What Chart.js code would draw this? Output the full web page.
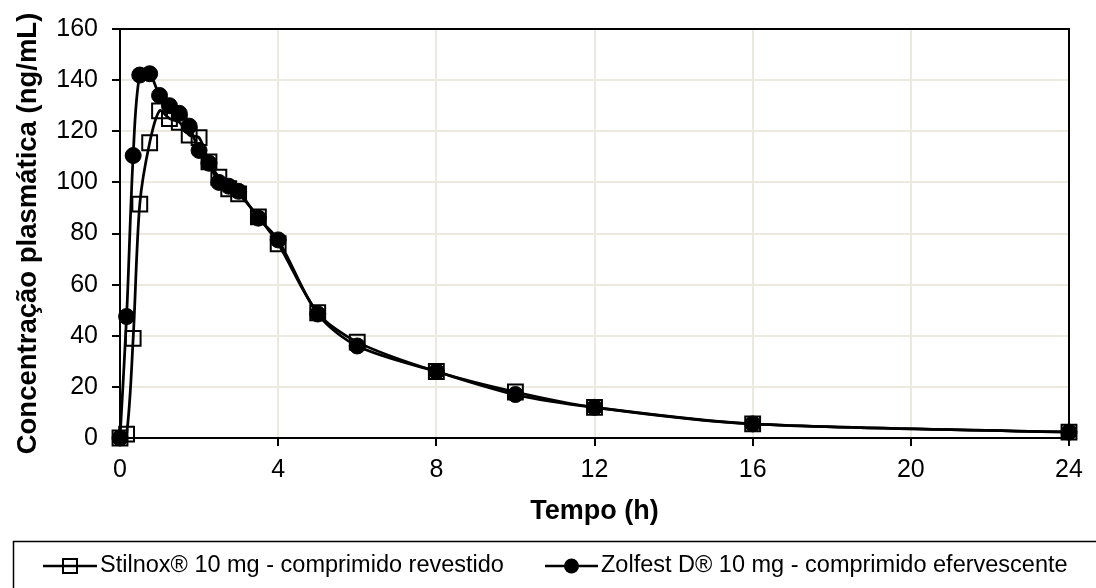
<!DOCTYPE html>
<html>
<head>
<meta charset="utf-8">
<script src="https://cdn.jsdelivr.net/npm/chart.js@4"></script>
<style>
  html, body { margin: 0; padding: 0; background: #fff; }
  #wrap { width: 1096px; height: 588px; }
</style>
</head>
<body>
<div id="wrap"><canvas id="pkChart" width="1096" height="588"></canvas></div>
<script>
// tempo de coleta (h)
const tempo = [0, 0.167, 0.333, 0.5, 0.75, 1, 1.25, 1.5, 1.75, 2, 2.25, 2.5, 2.75, 3, 3.5, 4, 5, 6, 8, 10, 12, 16, 24];
const stilnox = [0, 1.5, 39, 91.5, 115.5, 128, 125, 123.5, 118.5, 117.5, 108, 102, 97.5, 95.5, 86.5, 76, 49, 37.5, 26, 18, 12, 5.5, 2.3];
const zolfest = [0, 47.5, 110.5, 142, 142.5, 134, 130, 127, 122, 112.5, 107.5, 100, 98.5, 96.5, 86, 77.5, 48.5, 36, 26, 17, 12, 5.5, 2.3];
const xTicks = [0, 4, 8, 12, 16, 20, 24];
const yTicks = [0, 20, 40, 60, 80, 100, 120, 140, 160];
const labels = ["Stilnox\u00ae 10 mg - comprimido revestido", "Zolfest D\u00ae 10 mg - comprimido efervescente"];

const FONT = "'Liberation Sans', Arial, sans-serif";
const GRID = "#ece9df";

const pts = vals => tempo.map((t, i) => ({ x: t, y: vals[i] }));

// black box on top/right, outside tick marks, legend in a framed box
const framePlugin = {
  id: "frame",
  beforeDatasetsDraw(chart) {
    const { ctx, chartArea: a, scales } = chart;
    ctx.save();
    ctx.strokeStyle = "#000";
    ctx.lineWidth = 2;
    ctx.beginPath();
    ctx.moveTo(a.left, a.top);
    ctx.lineTo(a.right, a.top);
    ctx.lineTo(a.right, a.bottom);
    ctx.stroke();
    // tick marks
    ctx.beginPath();
    xTicks.forEach(v => {
      const px = Math.round(scales.x.getPixelForValue(v));
      ctx.moveTo(px, a.bottom);
      ctx.lineTo(px, a.bottom + 8);
    });
    yTicks.forEach(v => {
      const py = Math.round(scales.y.getPixelForValue(v));
      ctx.moveTo(a.left - 8, py);
      ctx.lineTo(a.left, py);
    });
    ctx.stroke();
    ctx.restore();
  },
  afterDraw(chart) {
    const ctx = chart.ctx;
    const ds = chart.data.datasets;
    ctx.save();
    ctx.strokeStyle = "#000";
    ctx.lineWidth = 1.5;
    ctx.strokeRect(13.5, 541.5, 1200, 100);

    const y = 566;
    const items = [{ x0: 43, x1: 97, tx: 100 }, { x0: 545, x1: 598, tx: 601 }];
    items.forEach((it, i) => {
      ctx.strokeStyle = "#000";
      ctx.lineWidth = 2.5;
      ctx.beginPath();
      ctx.moveTo(it.x0, y);
      ctx.lineTo(it.x1, y);
      ctx.stroke();
      const cx = (it.x0 + it.x1) / 2;
      ctx.lineWidth = 2;
      if (i === 0) {
        ctx.strokeRect(cx - 7, y - 7, 14, 14);
      } else {
        ctx.fillStyle = "#000";
        ctx.beginPath();
        ctx.arc(cx, y, 7.5, 0, Math.PI * 2);
        ctx.fill();
      }
      ctx.fillStyle = "#000";
      ctx.font = "23.5px " + FONT;
      ctx.textBaseline = "middle";
      ctx.textAlign = "left";
      ctx.fillText(ds[i].label, it.tx, y);
    });
    ctx.restore();
  }
};

new Chart(document.getElementById("pkChart"), {
  type: "scatter",
  data: {
    datasets: [
      {
        label: labels[0],
        data: pts(stilnox),
        showLine: true,
        tension: 0.3,
        borderColor: "#000",
        borderWidth: 2.75,
        pointStyle: "rect",
        pointRadius: 10.5,
        pointBorderWidth: 2,
        pointBorderColor: "#000",
        pointBackgroundColor: "rgba(0,0,0,0)",
        clip: false,
        order: 1
      },
      {
        label: labels[1],
        data: pts(zolfest),
        showLine: true,
        tension: 0.3,
        borderColor: "#000",
        borderWidth: 2.75,
        pointStyle: "circle",
        pointRadius: 8,
        pointBorderWidth: 1,
        pointBorderColor: "#000",
        pointBackgroundColor: "#000",
        clip: false,
        order: 0
      }
    ]
  },
  options: {
    responsive: false,
    animation: false,
    layout: { padding: { left: 0, top: 25, right: 27, bottom: 60 } },
    plugins: {
      legend: { display: false },
      tooltip: { enabled: false }
    },
    scales: {
      x: {
        type: "linear",
        min: 0,
        max: 24,
        afterFit(s) { s.height = 90; },
        afterBuildTicks(s) { s.ticks = xTicks.map(v => ({ value: v })); },
        ticks: { color: "#000", font: { family: FONT, size: 25 }, padding: 9 },
        grid: { color: GRID, lineWidth: 2, tickColor: "#000", tickLength: 8, tickWidth: 2 },
        border: { color: "#000", width: 2 },
        title: {
          display: true,
          text: "Tempo (h)",
          color: "#000",
          font: { family: FONT, size: 27, weight: "bold" },
          padding: { top: 0, bottom: 0 }
        }
      },
      y: {
        min: 0,
        max: 160,
        afterFit(s) { s.width = 120; },
        afterBuildTicks(s) { s.ticks = yTicks.map(v => ({ value: v })); },
        ticks: { color: "#000", font: { family: FONT, size: 25 }, padding: 14 },
        grid: { color: GRID, lineWidth: 2, tickColor: "#000", tickLength: 8, tickWidth: 2 },
        border: { color: "#000", width: 2 },
        title: {
          display: true,
          text: "Concentração plasmática (ng/mL)",
          color: "#000",
          font: { family: FONT, size: 27.5, weight: "bold" },
          padding: { top: 12, bottom: 0 }
        }
      }
    }
  },
  plugins: [framePlugin]
});
</script>
</body>
</html>
